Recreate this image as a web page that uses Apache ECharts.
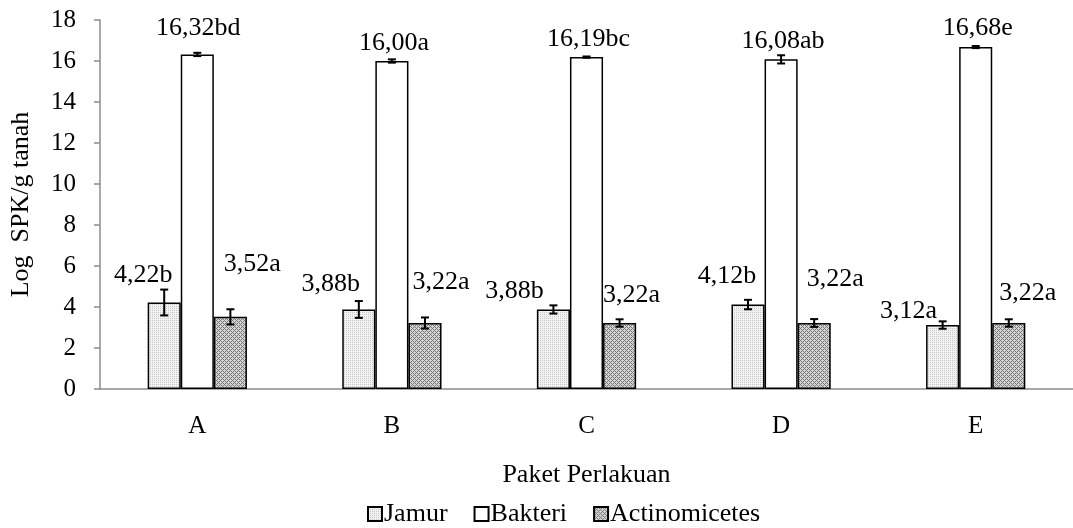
<!DOCTYPE html>
<html><head><meta charset="utf-8">
<script src="https://cdn.jsdelivr.net/npm/echarts@6/dist/echarts.min.js"></script>
<style>html,body{margin:0;padding:0;background:#fff}#c{width:1073px;height:528px}</style>
</head><body><div id="c"></div>
<script>
const categories = ['A','B','C','D','E'];
const seriesNames = ['Jamur','Bakteri','Actinomicetes'];
const jamur = [4.22, 3.88, 3.88, 4.12, 3.12];
const bakteri = [16.32, 16.00, 16.19, 16.08, 16.68];
const actino = [3.52, 3.22, 3.22, 3.22, 3.22];
const jamurErr = [0.63, 0.41, 0.20, 0.23, 0.18];
const bakteriErr = [0.08, 0.08, 0.03, 0.20, 0.05];
const actinoErr = [0.37, 0.27, 0.18, 0.19, 0.18];
const jamurLabels = ['4,22b','3,88b','3,88b','4,12b','3,12a'];
const bakteriLabels = ['16,32bd','16,00a','16,19bc','16,08ab','16,68e'];
const actinoLabels = ['3,52a','3,22a','3,22a','3,22a','3,22a'];
const yTicks = [0,2,4,6,8,10,12,14,16,18];

// label offsets (layout only)
const jamurOff = [[-21,-9],[-28,-7],[-39,0],[-21,-10],[-34,4]];
const bakteriOff = [[1,-8],[2,0],[2,0],[2,0],[2,-1]];
const actinoOff = [[22,-35],[16,-23],[12,-10],[21,-26],[19,-12]];

function pattern(c1, c2, kind){
  const cv = document.createElement('canvas');
  cv.width = 4; cv.height = 4;
  const ctx = cv.getContext('2d');
  ctx.fillStyle = c2; ctx.fillRect(0,0,4,4);
  ctx.fillStyle = c1;
  if (kind === 'dots') {
    ctx.fillRect(0,0,1,1); ctx.fillRect(2,2,1,1); ctx.fillRect(2,0,1,1); ctx.fillRect(0,2,1,1);
  } else {
    ctx.fillRect(0,0,1,1); ctx.fillRect(1,1,1,1); ctx.fillRect(2,2,1,1); ctx.fillRect(3,3,1,1);
    ctx.fillRect(3,1,1,1); ctx.fillRect(1,3,1,1);
  }
  return {image: cv, repeat: 'repeat'};
}
const jamurFill = pattern('#c8c8c8', '#f2f2f2', 'dots');
const actinoFill = pattern('#7a7a7a', '#d4d4d4', 'hatch');

const FONT = '"Liberation Serif", "Times New Roman", serif';

function mkData(vals, labels, offs){
  return vals.map((v,i)=>({value:v, label:{formatter:labels[i], offset:offs[i]}}));
}

const errSets = [[jamur, jamurErr, -1],[bakteri, bakteriErr, 0],[actino, actinoErr, 1]];
const errData = [];
errSets.forEach((s)=>{ s[0].forEach((v,i)=>errData.push([i, v, s[1][i], s[2]])); });

const labelBase = {show:true, position:'top', distance:5, color:'#000', fontFamily:FONT, fontSize:26};

const option = {
  animation:false,
  grid:{left:98, top:20, width:977, height:369},
  legend:{
    data:seriesNames, left:362, top:496, itemWidth:14, itemHeight:14, itemGap:26,
    textStyle:{fontFamily:FONT, fontSize:26, color:'#000', padding:[0,0,0,-3]},
    icon:'rect'
  },
  xAxis:{
    type:'category', data:categories,
    name:'Paket Perlakuan', nameLocation:'middle', nameGap:73,
    nameTextStyle:{fontFamily:FONT, fontSize:26, color:'#000'},
    axisLine:{lineStyle:{color:'#8c8c8c', width:1.5}},
    axisTick:{show:false},
    axisLabel:{fontFamily:FONT, fontSize:25, color:'#000', margin:25}
  },
  yAxis:{
    type:'value', min:0, max:18, interval:2,
    name:'Log  SPK/g tanah', nameLocation:'middle', nameGap:66, nameRotate:90,
    nameTextStyle:{fontFamily:FONT, fontSize:26, color:'#000'},
    axisLine:{show:true, lineStyle:{color:'#8c8c8c', width:1.5}},
    axisTick:{show:true, length:6, lineStyle:{color:'#8c8c8c', width:1.5}},
    splitLine:{show:false},
    axisLabel:{fontFamily:FONT, fontSize:25, color:'#000', margin:24,
      formatter:v=> yTicks.includes(v) ? String(v) : ''}
  },
  series:[
    {name:'Jamur', type:'bar', barGap:'0%', barCategoryGap:'49%',
     itemStyle:{color:jamurFill, borderColor:'#000', borderWidth:1.5},
     label:labelBase, data:mkData(jamur, jamurLabels, jamurOff)},
    {name:'Bakteri', type:'bar', barGap:'0%', barCategoryGap:'49%',
     itemStyle:{color:'#fff', borderColor:'#000', borderWidth:1.5},
     label:labelBase, data:mkData(bakteri, bakteriLabels, bakteriOff)},
    {name:'Actinomicetes', type:'bar', barGap:'0%', barCategoryGap:'49%',
     itemStyle:{color:actinoFill, borderColor:'#000', borderWidth:1.5},
     label:labelBase, data:mkData(actino, actinoLabels, actinoOff)},
    {type:'custom', z:10, silent:true,
     renderItem:function(params, api){
       const cat = api.value(0), v = api.value(1), e = api.value(2), k = api.value(3);
       const band = api.size([1,0])[0];
       const barW = band*(1-0.49)/3;
       const top = api.coord([cat, v+e]);
       const bot = api.coord([cat, v-e]);
       const x = top[0] + k*barW;
       const cap = 4;
       const st = {stroke:'#000', lineWidth:2};
       return {type:'group', children:[
         {type:'line', shape:{x1:x, y1:top[1], x2:x, y2:bot[1]}, style:st},
         {type:'line', shape:{x1:x-cap, y1:top[1], x2:x+cap, y2:top[1]}, style:st},
         {type:'line', shape:{x1:x-cap, y1:bot[1], x2:x+cap, y2:bot[1]}, style:st}
       ]};
     },
     encode:{x:0, y:1},
     data:errData}
  ]
};
const chart = echarts.init(document.getElementById('c'));
chart.setOption(option);
</script></body></html>
